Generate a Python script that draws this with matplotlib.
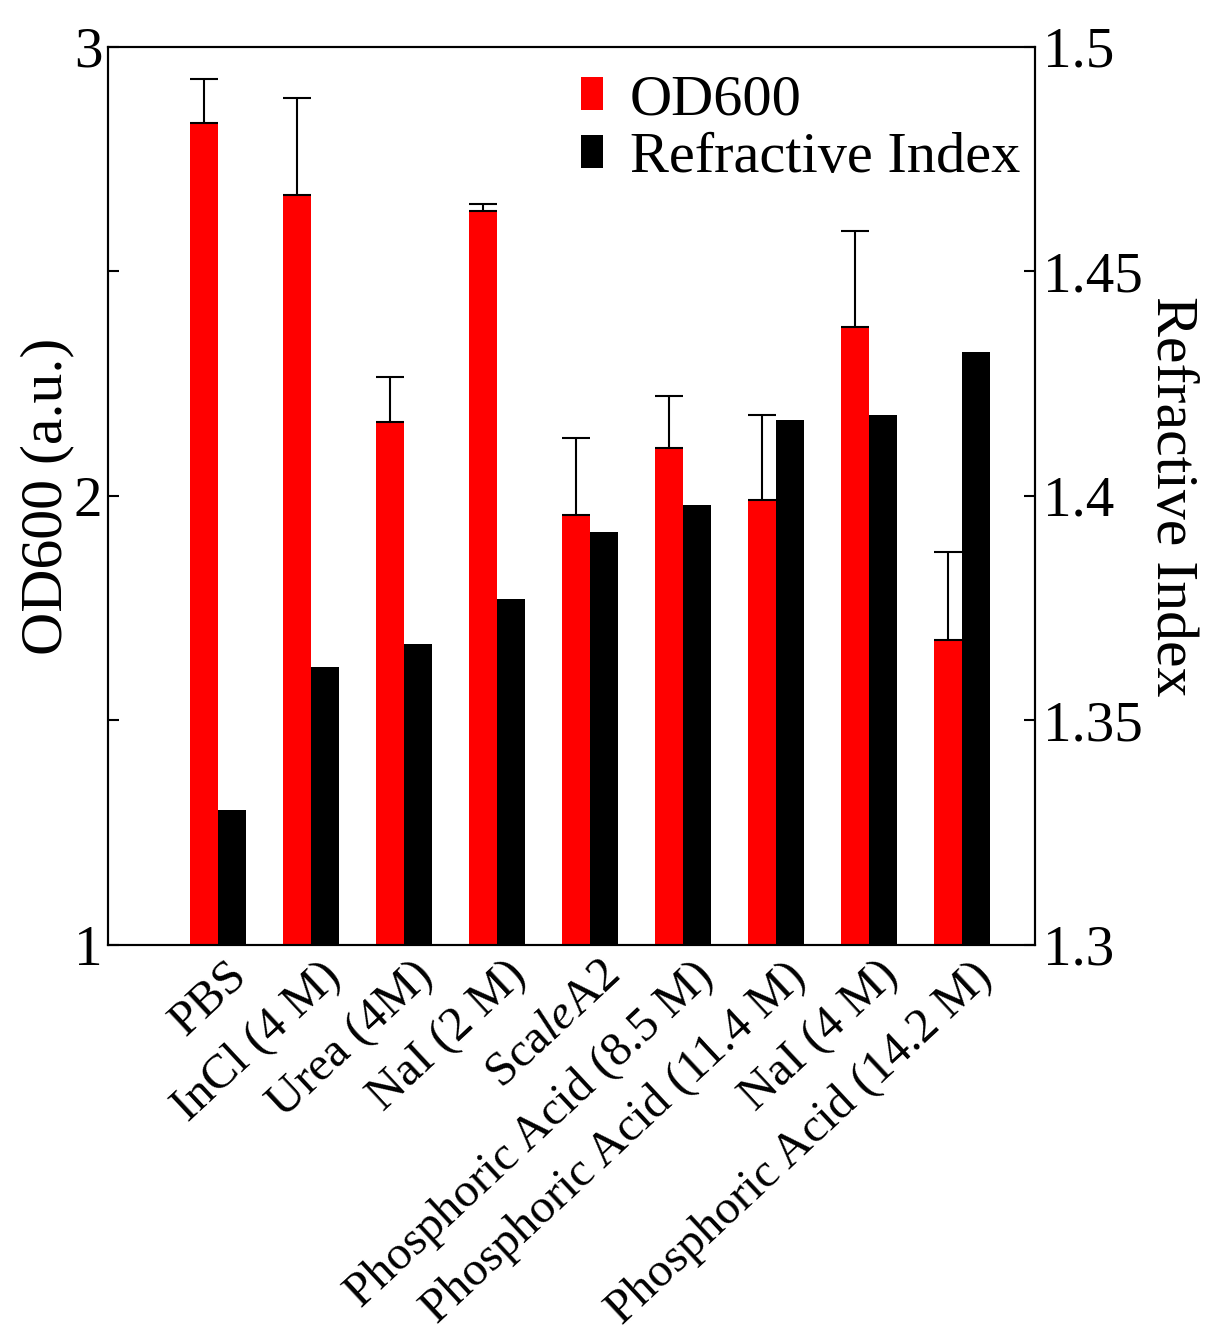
import numpy as np
import matplotlib
matplotlib.use('Agg')
import matplotlib.pyplot as plt
import matplotlib.transforms as mtransforms
from matplotlib.ticker import MultipleLocator, FixedLocator

plt.rcParams['font.family'] = 'Liberation Serif'
plt.rcParams['mathtext.fontset'] = 'custom'
plt.rcParams['mathtext.rm'] = 'Liberation Serif'
plt.rcParams['mathtext.it'] = 'Liberation Serif:italic'

samples = ['PBS', 'InCl (4 M)', 'Urea (4M)', 'NaI (2 M)', 'Sca$\\it{le}$A2',
           'Phosphoric Acid (8.5 M)', 'Phosphoric Acid (11.4 M)', 'NaI (4 M)',
           'Phosphoric Acid (14.2 M)']
od600 = [2.83, 2.67, 2.165, 2.635, 1.958, 2.107, 1.99, 2.376, 1.679]
od600_err = [0.098, 0.216, 0.10, 0.015, 0.172, 0.116, 0.19, 0.215, 0.196]
refractive_index = [1.330, 1.362, 1.367, 1.377, 1.392, 1.398, 1.417, 1.418, 1.432]

fig = plt.figure(figsize=(12.13, 13.39), dpi=100)
ax = fig.add_axes([0.089, 0.2943, 0.764, 0.6706])
ax2 = ax.twinx()

x = np.arange(len(samples))
width = 0.3

ax.bar(x - width / 2, od600, width, color='#ff0000', label='OD600')
ax.errorbar(x - width / 2, od600, yerr=[np.zeros(len(od600)), od600_err],
            fmt='none', ecolor='black', elinewidth=1.5, capsize=10, capthick=1.5)
ax2.bar(x + width / 2, refractive_index, width, color='black', label='Refractive Index')

ax.set_xlim(-1.18, 8.78)
ax.set_ylim(1, 3)
ax2.set_ylim(1.3, 1.5)

ax.yaxis.set_major_locator(FixedLocator([1, 2, 3]))
ax.yaxis.set_minor_locator(MultipleLocator(0.5))
ax2.set_yticks([1.3, 1.35, 1.4, 1.45, 1.5])
ax2.set_yticklabels(['1.3', '1.35', '1.4', '1.45', '1.5'])

ax.tick_params(axis='y', which='both', direction='in', labelsize=41, width=1.5)
ax.tick_params(axis='y', which='major', length=8, pad=4)
ax.tick_params(axis='y', which='minor', length=8)
ax2.tick_params(axis='y', direction='in', labelsize=41, length=8, width=1.5, pad=6)

ax.set_xticks(x)
ax.set_xticklabels(samples, rotation=43, ha='right', rotation_mode='anchor', fontsize=35)
ax.tick_params(axis='x', length=0, pad=6)
shift = mtransforms.ScaledTranslation(0.08, 0, fig.dpi_scale_trans)
for lbl in ax.get_xticklabels():
    lbl.set_transform(lbl.get_transform() + shift)

for a in (ax, ax2):
    for s in a.spines.values():
        s.set_linewidth(1.5)

ax.set_ylabel('OD600 (a.u.)', fontsize=43, labelpad=0)
ax2.set_ylabel('Refractive Index', fontsize=43, rotation=270, labelpad=40)

h1, l1 = ax.get_legend_handles_labels()
h2, l2 = ax2.get_legend_handles_labels()
ax2.legend(h1 + h2, l1 + l2, loc='upper right', bbox_to_anchor=(1.0, 0.986),
           fontsize=42, frameon=False,
           handlelength=0.38, handleheight=0.5, handletextpad=0.45,
           labelspacing=0.1, borderpad=0.15, borderaxespad=0.1)

fig.savefig('out.png', dpi=100)
